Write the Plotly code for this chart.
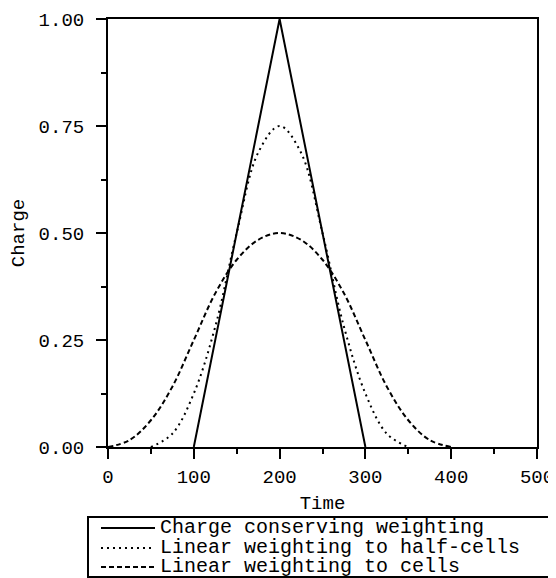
import plotly.graph_objects as go

# Charge conserving weighting (triangle)
x_cc = [100, 200, 300]
y_cc = [0.0, 1.0, 0.0]

# Linear weighting to half-cells
x_half = [50, 75, 100, 125, 150, 175, 200, 225, 250, 275, 300, 325, 350]
y_half = [0.0, 0.031, 0.125, 0.281, 0.5, 0.6875, 0.75, 0.6875, 0.5, 0.281, 0.125, 0.031, 0.0]

# Linear weighting to cells
x_cells = [0, 25, 50, 75, 100, 125, 150, 175, 200, 225, 250, 275, 300, 325, 350, 375, 400]
y_cells = [0.0, 0.016, 0.0625, 0.141, 0.25, 0.359, 0.4375, 0.484, 0.5,
           0.484, 0.4375, 0.359, 0.25, 0.141, 0.0625, 0.016, 0.0]

series_names = ["Charge conserving weighting",
                "Linear weighting to half-cells",
                "Linear weighting to cells"]

x_ticks = [0, 100, 200, 300, 400, 500]
x_ticklabels = ["0", "100", "200", "300", "400", "500"]
y_ticks = [0, 0.25, 0.5, 0.75, 1.0]
y_ticklabels = ["0.00", "0.25", "0.50", "0.75", "1.00"]

FONT = "Liberation Mono"
OFF = 8  # page body margin in the browser
W, H = 556 - OFF, 578 - OFF
# plot area in window pixels: left 108, right 537, top 19, bottom 447
ML, MR, MT, MB = 108 - OFF, W - (537 - OFF), 19 - OFF, H - (447 - OFF)
PW, PH = W - ML - MR, H - MT - MB

def px2x(px):
    return (px - OFF - ML) / PW

def px2y(py):
    return (H - MB - (py - OFF)) / PH

dashes = ["solid", "2px,4px", "5px,3px"]
shapes_spline = ["linear", "spline", "spline"]

fig = go.Figure()
for xs, ys, name, dash, shp in zip([x_cc, x_half, x_cells], [y_cc, y_half, y_cells],
                                   series_names, dashes, shapes_spline):
    fig.add_trace(go.Scatter(x=xs, y=ys, mode="lines", name=name, showlegend=False,
                             line=dict(color="black", width=2, dash=dash, shape=shp)))

axis_common = dict(
    showline=True, linecolor="black", linewidth=2, mirror=True,
    showgrid=False, zeroline=False, automargin=False,
    ticks="outside", ticklen=10, tickwidth=2, tickcolor="black",
    tickfont=dict(family=FONT, size=19, color="black"),
)

fig.update_xaxes(range=[0, 500], tickvals=x_ticks, ticktext=x_ticklabels,
                 minor=dict(ticks="outside", ticklen=5, tickwidth=2, tickcolor="black", dtick=50, showgrid=False),
                 title=dict(text="Time", font=dict(family=FONT, size=19, color="black"), standoff=8),
                 ticklabelstandoff=1,
                 **axis_common)
fig.update_yaxes(range=[0, 1.0], tickvals=y_ticks, ticktext=y_ticklabels,
                 minor=dict(ticks="outside", ticklen=5, tickwidth=2, tickcolor="black", dtick=0.125, showgrid=False),
                 title=dict(text="Charge", font=dict(family=FONT, size=19, color="black"), standoff=12),
                 ticklabelstandoff=8,
                 **axis_common)

# Legend box drawn below the plot
shapes = [dict(type="rect", xref="paper", yref="paper",
               x0=px2x(88), x1=px2x(570), y0=px2y(577), y1=px2y(517),
               line=dict(color="black", width=2), fillcolor="white", layer="above")]
row_y = [528, 548, 567]
for dash, ry in zip(dashes, row_y):
    shapes.append(dict(type="line", xref="paper", yref="paper",
                       x0=px2x(101), x1=px2x(155), y0=px2y(ry), y1=px2y(ry),
                       line=dict(color="black", width=2, dash=dash)))

# one text block, 20 px glyphs on a 19.5 px line pitch
LEG_SIZE = 20
legend_text = "<br>".join(f"<span style='font-size:{LEG_SIZE}px'>{n}</span>" for n in series_names)
annotations = [dict(text=legend_text, xref="paper", yref="paper",
                    x=px2x(159), y=px2y(row_y[1] - 1), xanchor="left", yanchor="middle",
                    align="left", borderpad=0, showarrow=False,
                    font=dict(family=FONT, size=15, color="black"))]

fig.update_layout(
    width=W, height=H,
    margin=dict(l=ML, r=MR, t=MT, b=MB),
    paper_bgcolor="white", plot_bgcolor="white",
    showlegend=False,
    shapes=shapes, annotations=annotations,
)

fig.write_html("out.html")
